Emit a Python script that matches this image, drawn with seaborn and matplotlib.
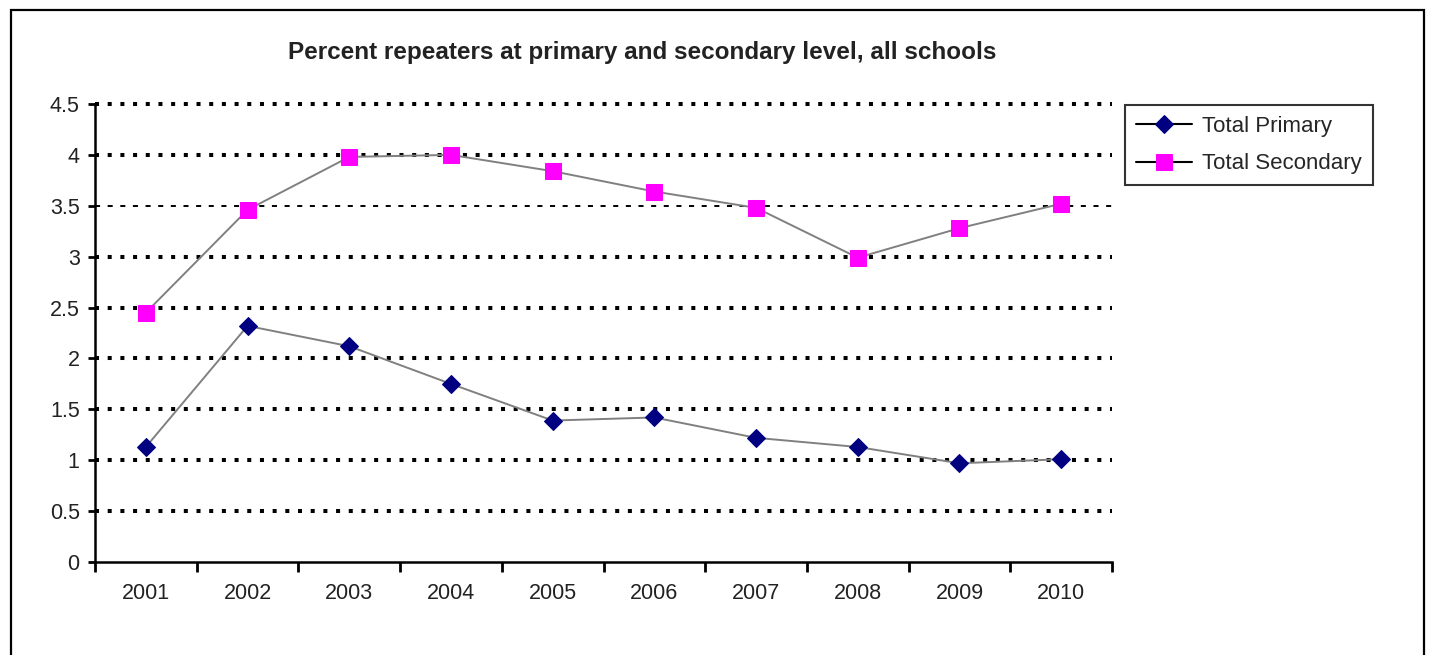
import matplotlib
matplotlib.use("Agg")
import matplotlib.pyplot as plt
import seaborn as sns
import pandas as pd
from matplotlib.patches import Rectangle

years = [2001, 2002, 2003, 2004, 2005, 2006, 2007, 2008, 2009, 2010]
total_primary = [1.13, 2.32, 2.12, 1.75, 1.39, 1.42, 1.22, 1.13, 0.97, 1.01]
total_secondary = [2.45, 3.46, 3.98, 4.0, 3.84, 3.64, 3.48, 2.99, 3.28, 3.52]
y_ticks = [0, 0.5, 1, 1.5, 2, 2.5, 3, 3.5, 4, 4.5]
y_labels = ["0", "0.5", "1", "1.5", "2", "2.5", "3", "3.5", "4", "4.5"]
title = "Percent repeaters at primary and secondary level, all schools"

sns.set_style("white")
plt.rcParams["font.family"] = ["Liberation Sans", "DejaVu Sans"]

df = pd.DataFrame({"year": years, "primary": total_primary, "secondary": total_secondary})

fig = plt.figure(figsize=(14.32, 6.55), dpi=100)
ax = fig.add_axes([95 / 1432, 1 - 562 / 655, (1112 - 95) / 1432, (562 - 104) / 655])

sns.lineplot(data=df, x="year", y="primary", ax=ax, color="#808080", lw=1.4,
             marker="D", markersize=9.5, markerfacecolor="#000080",
             markeredgecolor="#000080", label="Total Primary", zorder=3)
sns.lineplot(data=df, x="year", y="secondary", ax=ax, color="#808080", lw=1.4,
             marker="s", markersize=12, markerfacecolor="#ff00ff",
             markeredgecolor="#ff00ff", label="Total Secondary", zorder=3)

ax.set_xlim(2000.5, 2010.5)
ax.set_ylim(0, 4.5)
ax.set_xlabel("")
ax.set_ylabel("")

# category labels in the middle, tick marks on the boundaries
ax.set_xticks(years)
ax.set_xticklabels([str(y) for y in years], fontsize=15.5, color="#222222")
ax.set_xticks([y + 0.5 for y in range(2000, 2011)], minor=True)
ax.tick_params(axis="x", which="major", bottom=True, length=0, pad=15)
ax.tick_params(axis="x", which="minor", bottom=True, length=7, width=2,
               direction="out", color="black")
ax.set_yticks(y_ticks)
ax.set_yticklabels(y_labels, fontsize=15.5, color="#222222")
ax.tick_params(axis="y", left=True, length=5, width=2, direction="out",
               color="black", pad=6)

for side in ["top", "right"]:
    ax.spines[side].set_visible(False)
for side in ["left", "bottom"]:
    ax.spines[side].set_color("black")
    ax.spines[side].set_linewidth(1.8)

ax.yaxis.grid(True, color="black", lw=2.9, linestyle=(0, (1, 2.15)))
ax.xaxis.grid(False)
for val, gl in zip(ax.get_yticks(), ax.get_ygridlines()):
    gl.set_clip_on(False)
    if val == 3.5:
        gl.set_linewidth(1.4)
        gl.set_linestyle((0, (2.6, 3.9)))
    if val == 0:
        gl.set_visible(False)

leg = ax.legend(loc="upper left", bbox_to_anchor=(1125 / 1432, 1 - 105 / 655),
                bbox_transform=fig.transFigure, fontsize=16, frameon=True,
                fancybox=False, edgecolor="black", handlelength=2.55,
                handletextpad=0.45, labelspacing=0.75, borderpad=0.48,
                borderaxespad=0)
leg.get_frame().set_linewidth(1.5)
for h in leg.get_lines():
    h.set_color("black")
    h.set_linewidth(1.5)

fig.text(642 / 1432, 1 - 53 / 655, title, ha="center", va="center",
         fontsize=17.5, fontweight="bold", color="#222222")

fig.patches.append(Rectangle((11 / 1432, -0.1), (1424 - 11) / 1432, 1.1 - 10 / 655,
                             transform=fig.transFigure, fill=False,
                             edgecolor="black", lw=1.6))

fig.savefig("out.png", dpi=100)
